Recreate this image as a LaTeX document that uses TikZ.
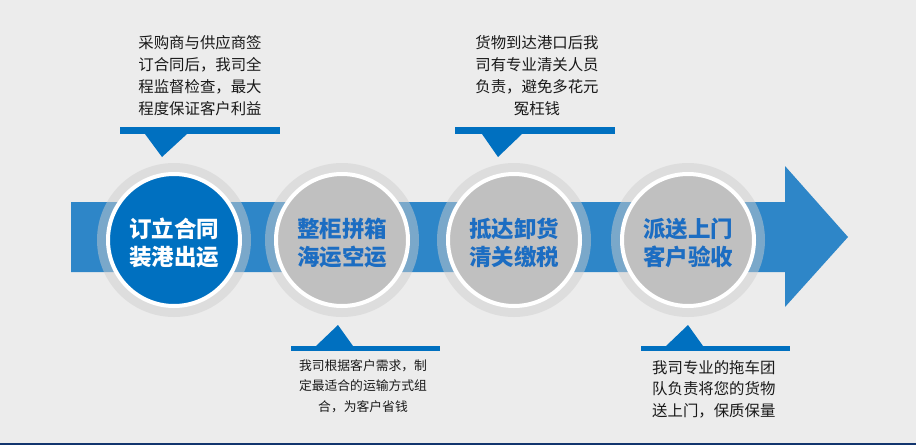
\documentclass[tikz,border=0pt]{standalone}
\usepackage{fontspec}
\usepackage{tikz}
\newfontfamily\cjk{Noto Sans CJK SC}
\definecolor{bandblue}{HTML}{2E86C8}
\definecolor{deepblue}{HTML}{0070C0}
\definecolor{labelblue}{HTML}{1C6DC2}
\definecolor{stepgray}{HTML}{C0C0C0}
\definecolor{halogray}{HTML}{CECECE}
\definecolor{paper}{HTML}{ECECEC}
\definecolor{navy}{HTML}{12356E}

\begin{document}
\begin{tikzpicture}[x=1pt,y=-1pt, halo/.style={circle,fill=halogray,fill opacity=.48,minimum size=154pt,inner sep=0pt}, stepbox/.style={circle,draw=white,line width=4pt,minimum size=132pt,inner sep=0pt,fill=stepgray}, steplabel/.style={align=center,inner sep=0pt,font=\cjk\bfseries\fontsize{22.5}{28}\selectfont,text=labelblue}, bar/.style={fill=deepblue,inner sep=0pt,minimum height=7pt,minimum width=160pt}, lowbar/.style={fill=deepblue,inner sep=0pt,minimum height=5pt,minimum width=149pt}, note/.style={align=center,inner sep=0pt,text=black!90,font=\cjk\fontsize{15.4}{22}\selectfont}]
\useasboundingbox (0,0) rectangle (916,445);
\fill[paper] (0,0) rectangle (916,445);
\fill[navy] (0,443) rectangle (916,445);
% main arrow
\fill[bandblue] (71,202)--(785,202)--(785,166)--(848,237)--(785,307)--(785,272)--(71,272)--cycle;
\node[halo] (h1) at (174,240) {}; \node[halo] (h2) at (342,240) {};
\node[halo] (h3) at (514,240) {}; \node[halo] (h4) at (688,240) {};
\node[stepbox,fill=deepblue] (s1) at (h1) {};
\node[stepbox] (s2) at (h2) {};
\node[stepbox] (s3) at (h3) {};
\node[stepbox] (s4) at (h4) {};
\node[steplabel,text=white] (l1) at ([yshift=-3pt]s1) {订立合同\\装港出运};
\node[steplabel] (l2) at ([yshift=-3pt]s2) {整柜拼箱\\海运空运};
\node[steplabel] (l3) at ([yshift=-3pt]s3) {抵达卸货\\清关缴税};
\node[steplabel] (l4) at ([yshift=-3pt]s4) {派送上门\\客户验收};
% callouts above
\node[bar] (b1) at (200,130.5) {}; \fill[deepblue] (145,134)--(187,134)--(162,157)--cycle;
\node[note] (t1) at (200,76) {采购商与供应商签\\订合同后，我司全\\程监督检查，最大\\程度保证客户利益};
\node[bar] (b3) at (535,130.5) {}; \fill[deepblue] (482,134)--(522,134)--(498,157)--cycle;
\node[note] (t3) at (537,76) {货物到达港口后我\\司有专业清关人员\\负责，避免多花元\\冤枉钱};
% callouts below
\node[lowbar] (b2) at (365.5,348.5) {}; \fill[deepblue] (316,346)--(353,346)--(338,325)--cycle;
\node[note,font=\cjk\fontsize{12.8}{20.5}\selectfont] (t2) at (363,386) {我司根据客户需求，制\\定最适合的运输方式组\\合，为客户省钱};
\node[lowbar] (b4) at (715.5,348.5) {}; \fill[deepblue] (666,346)--(703,346)--(688,325)--cycle;
\node[note,align=left,anchor=west,font=\cjk\fontsize{15.4}{21.5}\selectfont] (t4) at (652,389) {我司专业的拖车团\\队负责将您的货物\\送上门，保质保量};
\end{tikzpicture}
\end{document}
